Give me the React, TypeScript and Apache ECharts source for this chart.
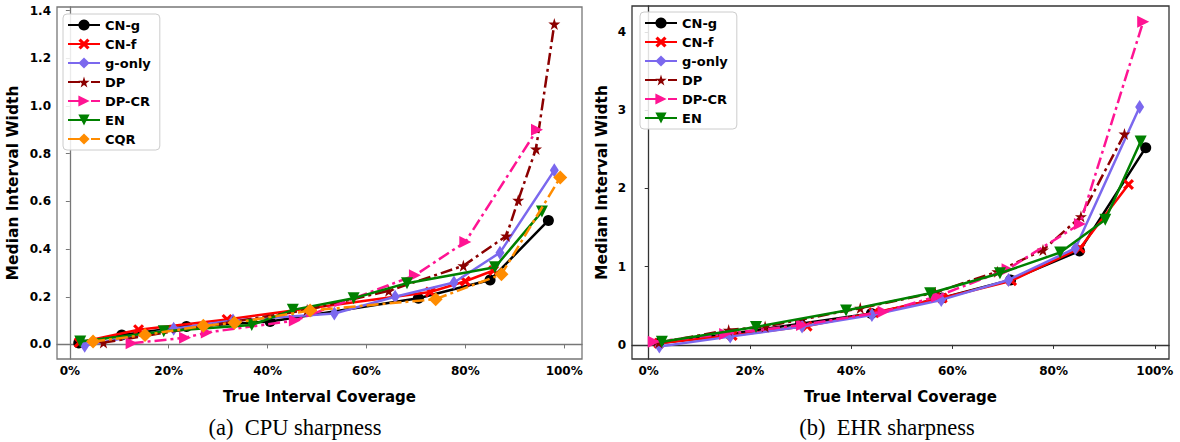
import React, { useEffect, useRef } from 'react';
import * as echarts from 'echarts';

// ---- tick values ----
const xTicks = [0, 20, 40, 60, 80, 100];
const cpuYTicks = [0, 0.2, 0.4, 0.6, 0.8, 1.0, 1.2, 1.4];
const ehrYTicks = [0, 1, 2, 3, 4];

// ---- series names ----
const cpuNames = ['CN-g', 'CN-f', 'g-only', 'DP', 'DP-CR', 'EN', 'CQR'];
const ehrNames = ['CN-g', 'CN-f', 'g-only', 'DP', 'DP-CR', 'EN'];

// ---- CPU sharpness data: [coverage %, median width] ----
const cpuCNg = [[1.8, 0.006], [10.5, 0.04], [23.6, 0.075], [40.5, 0.096], [70.5, 0.194], [85, 0.27], [96.8, 0.52]];
const cpuCNf = [[1.9, 0.008], [13.9, 0.062], [31.8, 0.105], [72.9, 0.22], [80, 0.265], [85.7, 0.31]];
const cpuGonly = [[3, -0.005], [21, 0.066], [33, 0.1], [53.5, 0.13], [65.8, 0.2], [77.7, 0.26], [87, 0.385], [98, 0.73]];
const cpuDP = [[6.8, 0.008], [33, 0.095], [48, 0.145], [64.5, 0.225], [79.6, 0.33], [88.3, 0.455], [90.7, 0.605], [94.3, 0.82], [98, 1.344]];
const cpuDPCR = [[12.5, 0.005], [23.3, 0.028], [27.7, 0.05], [45.5, 0.1], [69.8, 0.29], [80, 0.43], [94.5, 0.9]];
const cpuEN = [[2.1, 0.012], [19, 0.055], [36.8, 0.082], [45.1, 0.145], [57.4, 0.194], [68.2, 0.257], [86, 0.324], [95.5, 0.557]];
const cpuCQR = [[4.7, 0.012], [15.2, 0.04], [27, 0.078], [33.3, 0.091], [48.6, 0.142], [74, 0.19], [87.3, 0.294], [99.2, 0.7]];

// ---- EHR sharpness data ----
const ehrCNg = [[2, 0.02], [16, 0.14], [30, 0.27], [44, 0.4], [57.9, 0.6], [71.5, 0.83], [85.1, 1.2], [98.2, 2.52]];
const ehrCNf = [[2, 0.02], [16.5, 0.12], [31.3, 0.24], [44.5, 0.41], [58, 0.6], [71.7, 0.82], [85.2, 1.235], [94.8, 2.05]];
const ehrGonly = [[2.1, -0.02], [16.1, 0.106], [30.3, 0.234], [44.1, 0.383], [57.8, 0.575], [71.1, 0.83], [84.3, 1.235], [97, 3.04]];
const ehrDP = [[2, 0.03], [15.8, 0.19], [23, 0.234], [41.8, 0.47], [56.6, 0.668], [68.9, 0.936], [77.9, 1.213], [85.4, 1.64], [94, 2.695]];
const ehrDPCR = [[1, 0.04], [15.1, 0.14], [30.3, 0.255], [46.4, 0.425], [57, 0.62], [70.9, 0.967], [85.2, 1.545], [97.7, 4.13]];
const ehrEN = [[2.6, 0.04], [21.2, 0.23], [39, 0.44], [55.6, 0.66], [69.4, 0.915], [81.3, 1.18], [90.2, 1.6], [97.2, 2.6]];

const cpuData = [cpuCNg, cpuCNf, cpuGonly, cpuDP, cpuDPCR, cpuEN, cpuCQR];
const ehrData = [ehrCNg, ehrCNf, ehrGonly, ehrDP, ehrDPCR, ehrEN];

// ---- styles ----
const STAR = 'path://M50,0 L61,35 L98,35 L68,57 L79,91 L50,70 L21,91 L32,57 L2,35 L39,35 Z';
const XMARK = 'path://M20,0 L50,30 L80,0 L100,20 L70,50 L100,80 L80,100 L50,70 L20,100 L0,80 L30,50 L0,20 Z';
const TRI_R = 'path://M0,0 L100,50 L0,100 Z';
const TRI_D = 'path://M0,0 L100,0 L50,100 Z';
const DASHDOT = [12, 4, 3, 4];

const styleMap: Record<string, any> = {
  'CN-g': { color: '#000000', symbol: 'circle', size: 11, dash: 'solid' },
  'CN-f': { color: '#ff0000', symbol: XMARK, size: 11, dash: 'solid' },
  'g-only': { color: '#7b68ee', symbol: 'diamond', size: [9, 14], dash: 'solid' },
  'DP': { color: '#8b0000', symbol: STAR, size: 12, dash: DASHDOT },
  'DP-CR': { color: '#ff1493', symbol: TRI_R, size: 12, dash: DASHDOT },
  'EN': { color: '#008000', symbol: TRI_D, size: 12, dash: 'solid' },
  'CQR': { color: '#ff8c00', symbol: 'diamond', size: 14, dash: DASHDOT },
};

const FONT = 'DejaVu Sans';

function makeSeries(names: string[], data: number[][][], axisIndex: number) {
  return names.map((name, i) => {
    const s = styleMap[name];
    return {
      type: 'line',
      name,
      xAxisIndex: axisIndex,
      yAxisIndex: axisIndex,
      data: data[i],
      symbol: s.symbol,
      symbolSize: s.size,
      showAllSymbol: true,
      lineStyle: { color: s.color, width: 2.5, type: s.dash },
      itemStyle: { color: s.color, borderWidth: 0 },
      emphasis: { disabled: true },
      z: 2 + i,
    };
  });
}

function makeXAxis(gridIndex: number, min: number, max: number, frame: string) {
  return {
    type: 'value',
    gridIndex,
    min,
    max,
    name: 'True Interval Coverage',
    nameLocation: 'middle',
    nameGap: 30,
    nameTextStyle: { fontFamily: FONT, fontWeight: 'bold', fontSize: 15, color: '#000' },
    axisLine: { show: true, lineStyle: { color: frame, width: 1.3 } },
    axisTick: { show: true, length: 4, lineStyle: { color: frame, width: 1 }, customValues: xTicks },
    axisLabel: {
      customValues: xTicks,
      formatter: (v: number) => `${Math.round(v)}%`,
      fontFamily: FONT,
      fontWeight: 'bold',
      fontSize: 12,
      color: '#000',
      margin: 6,
    },
    splitLine: { show: false },
  };
}

function makeYAxis(gridIndex: number, min: number, max: number, ticks: number[], digits: number, frame: string, gap: number) {
  return {
    type: 'value',
    gridIndex,
    min,
    max,
    name: 'Median Interval Width',
    nameLocation: 'middle',
    nameGap: gap,
    nameRotate: 90,
    nameTextStyle: { fontFamily: FONT, fontWeight: 'bold', fontSize: 15.5, color: '#000' },
    axisLine: { show: true, lineStyle: { color: frame, width: 1.3 } },
    axisTick: { show: true, length: 4, lineStyle: { color: frame, width: 1 }, customValues: ticks },
    axisLabel: {
      customValues: ticks,
      formatter: (v: number) => v.toFixed(digits),
      fontFamily: FONT,
      fontWeight: 'bold',
      fontSize: 12,
      color: '#000',
      margin: 6,
    },
    splitLine: { show: false },
  };
}

function makeLegend(names: string[], left: number, top: number) {
  return {
    orient: 'vertical',
    left,
    top,
    data: names,
    itemWidth: 32,
    itemHeight: 14,
    itemGap: 5,
    padding: [4, 9, 4, 4],
    backgroundColor: 'rgba(255,255,255,0.85)',
    borderColor: '#cccccc',
    borderWidth: 1,
    borderRadius: 4,
    selectedMode: false,
    textStyle: { fontFamily: FONT, fontWeight: 'bold', fontSize: 13, color: '#000', lineHeight: 14 },
  };
}

export default function App() {
  const ref = useRef<HTMLDivElement>(null);
  useEffect(() => {
    if (!ref.current) return;
    const chart = echarts.init(ref.current, null, { renderer: 'svg' });
    const leftFrame = '#777777';
    const rightFrame = '#333333';
    chart.setOption({
      animation: false,
      backgroundColor: '#ffffff',
      grid: [
        { left: 57, top: 7, width: 525, height: 352, show: true, borderColor: leftFrame, borderWidth: 1.3, backgroundColor: 'transparent' },
        { left: 632, top: 6, width: 537, height: 353, show: true, borderColor: rightFrame, borderWidth: 1.3, backgroundColor: 'transparent' },
      ],
      xAxis: [makeXAxis(0, -2.6, 103.6, leftFrame), makeXAxis(1, -3.3, 102.8, rightFrame)],
      yAxis: [
        makeYAxis(0, -0.061, 1.415, cpuYTicks, 1, leftFrame, 36),
        makeYAxis(1, -0.18, 4.33, ehrYTicks, 0, rightFrame, 22),
      ],
      legend: [makeLegend(cpuNames, 63, 14), makeLegend(ehrNames, 640, 12)],
      series: [...makeSeries(cpuNames, cpuData, 0), ...makeSeries(ehrNames, ehrData, 1)],
      graphic: [
        {
          type: 'text',
          x: 295,
          y: 427,
          style: { text: '(a)  CPU sharpness', fontFamily: 'Liberation Serif', fontSize: 22.5, fill: '#000', align: 'center', verticalAlign: 'middle' },
        },
        {
          type: 'text',
          x: 887,
          y: 427,
          style: { text: '(b)  EHR sharpness', fontFamily: 'Liberation Serif', fontSize: 22.5, fill: '#000', align: 'center', verticalAlign: 'middle' },
        },
      ],
    });
    return () => chart.dispose();
  }, []);
  return (
    <div
      ref={ref}
      style={{ position: 'absolute', left: 0, top: 0, width: 1180, height: 442, background: '#fff' }}
    />
  );
}
